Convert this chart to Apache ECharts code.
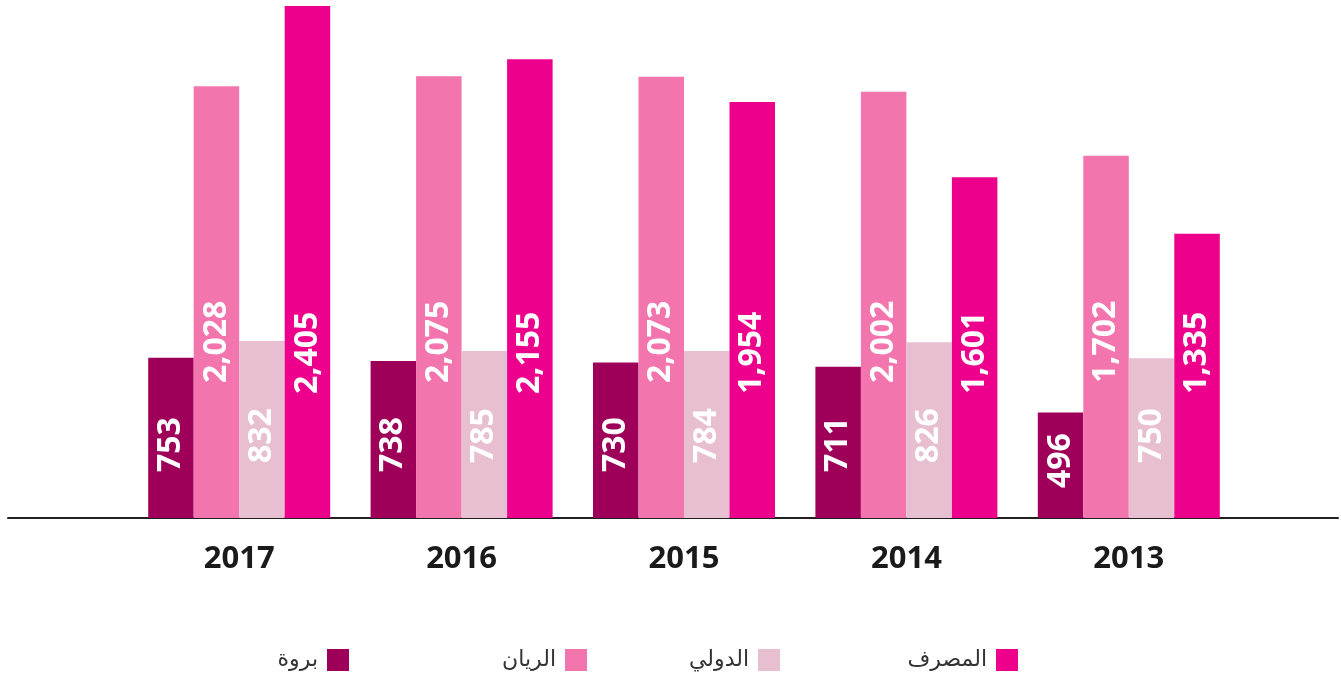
<!DOCTYPE html>
<html>
<head>
<meta charset="utf-8">
<script src="https://cdn.jsdelivr.net/npm/echarts@6/dist/echarts.min.js"></script>
<style>
    html, body { margin: 0; padding: 0; background: #fff; }
    #chart { width: 1341px; height: 684px; }
</style>
</head>
<body>
<div id="chart"></div>
<script>
// السنوات من اليسار إلى اليمين
const years = ["2017", "2016", "2015", "2014", "2013"]
const barwa = [753, 738, 730, 711, 496]
const rayan = [2028, 2075, 2073, 2002, 1702]
const dawli = [832, 785, 784, 826, 750]
const masraf = [2405, 2155, 1954, 1601, 1335]

const names = ["بروة", "الريان", "الدولي", "المصرف"]
const colors = ["#9e0059", "#f375ae", "#e8bfd0", "#ec008c"]

const numFont = "'Open Sans', 'DejaVu Sans', sans-serif"

function barLabel(distance) {
    return {
        show: true,
        position: "insideBottom",
        distance: distance,
        rotate: 90,
        align: "left",
        verticalAlign: "middle",
        color: "#fff",
        fontFamily: numFont,
        fontWeight: "bold",
        fontSize: 32,
        formatter: (p) => p.value.toLocaleString("en-US"),
    }
}

function legendAt(name, right) {
    return {
        data: [name],
        right: right,
        top: 644,
        align: "right",
        icon: "rect",
        itemWidth: 22,
        itemHeight: 22,
        selectedMode: false,
        textStyle: {
            fontFamily: "'DejaVu Sans', sans-serif",
            fontSize: 22,
            color: "#333",
            padding: [0, 4, 0, 0],
        },
    }
}

var myChart = echarts.init(document.getElementById("chart"), null, { renderer: "canvas" })

myChart.setOption({
    animation: false,
    color: colors,
    legend: [
        legendAt(names[0], 987),
        legendAt(names[1], 749),
        legendAt(names[2], 556),
        legendAt(names[3], 318),
    ],
    grid: [
        { left: 128, right: 101, top: 6, bottom: 166 },
        { left: 8, right: 3, top: 6, bottom: 166 },
    ],
    xAxis: [
        {
            type: "category",
            gridIndex: 0,
            data: years,
            axisLine: { show: false },
            axisTick: { show: false },
            axisLabel: {
                margin: 26,
                color: "#1a1a1a",
                fontFamily: numFont,
                fontWeight: "bold",
                fontSize: 31,
            },
        },
        {
            type: "value",
            gridIndex: 1,
            min: 0,
            max: 1,
            axisLine: { show: true, onZero: false, lineStyle: { color: "#231f20", width: 2 } },
            axisTick: { show: false },
            axisLabel: { show: false },
            splitLine: { show: false },
        },
    ],
    yAxis: [
        { type: "value", gridIndex: 0, min: 0, max: 2405, show: false },
        { type: "value", gridIndex: 1, min: 0, max: 1, show: false },
    ],
    series: [
        {
            name: names[0],
            type: "bar",
            barWidth: 45.5,
            barGap: "0%",
            // 496 label sits lower in the original
            data: barwa.map((v, i) => (i === 4 ? { value: v, label: { distance: 30 } } : v)),
            label: barLabel(46),
        },
        {
            name: names[1],
            type: "bar",
            barWidth: 45.5,
            barGap: "0%",
            data: rayan,
            label: barLabel(135),
        },
        {
            name: names[2],
            type: "bar",
            barWidth: 45.5,
            barGap: "0%",
            data: dawli,
            label: barLabel(55),
        },
        {
            name: names[3],
            type: "bar",
            barWidth: 45.5,
            barGap: "0%",
            data: masraf,
            label: barLabel(124),
        },
    ],
})
</script>
</body>
</html>
